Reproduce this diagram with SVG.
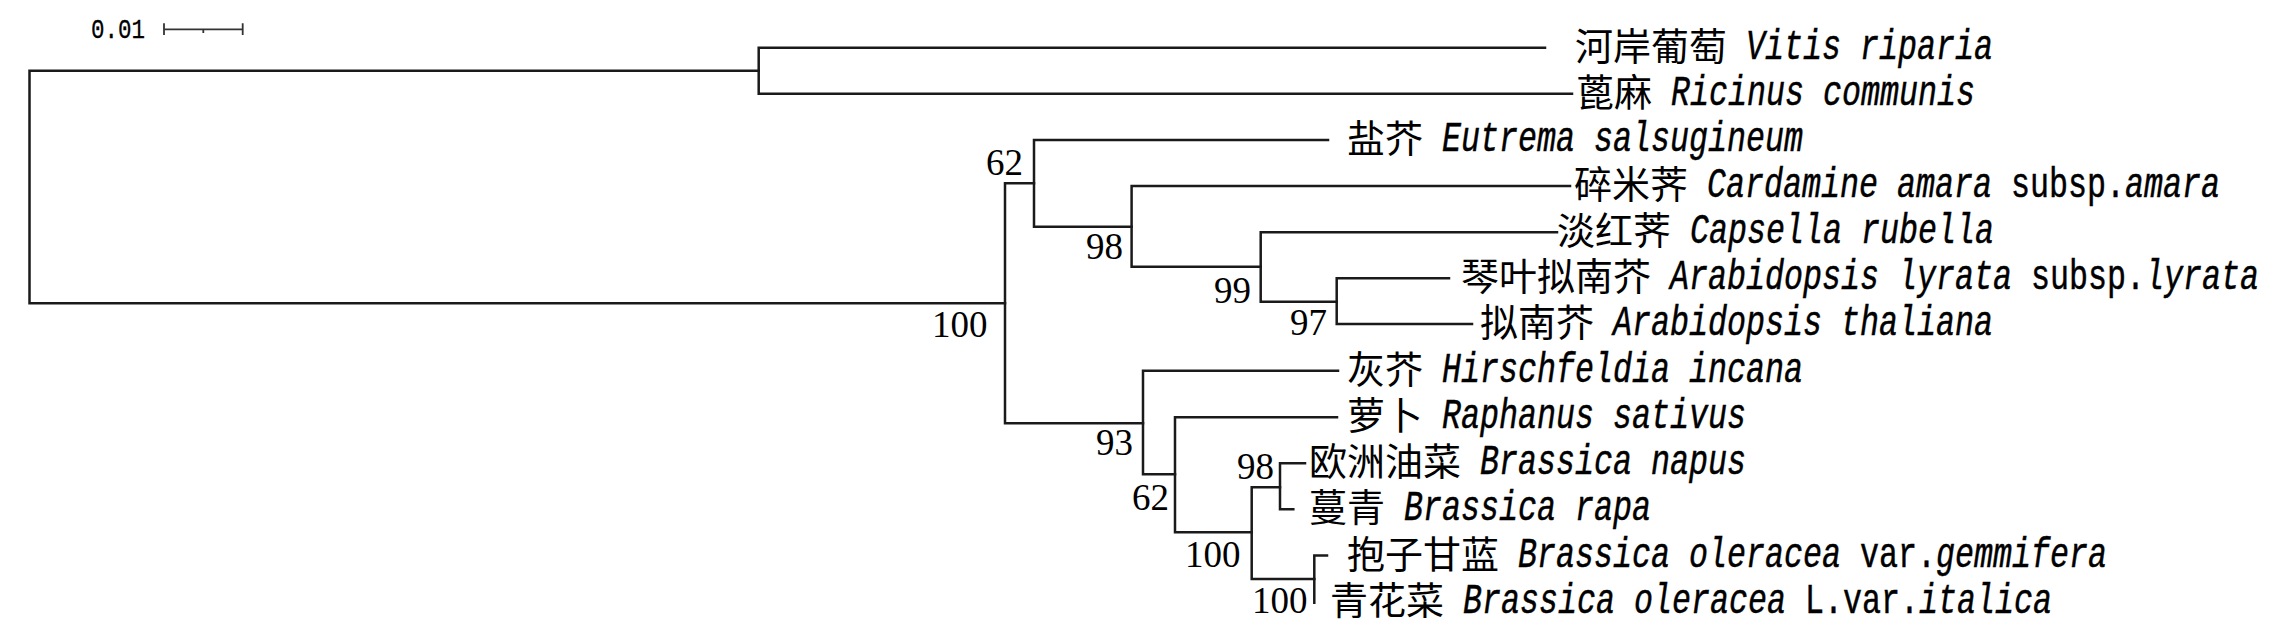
<svg xmlns="http://www.w3.org/2000/svg" width="2293" height="641" viewBox="0 0 2293 641">
<style>
.br{fill:none;stroke:#1a1a1a;stroke-width:2.5;stroke-linecap:square;stroke-linejoin:miter}
.sb{fill:none;stroke:#333;stroke-width:1.8}
.zh{font-family:"Noto Sans CJK SC","Noto Sans CJK JP",sans-serif;font-size:38px;fill:#000}
.la{font-family:"Liberation Mono",monospace;font-size:43px;fill:#000;stroke:#000;stroke-width:0.5}
.it{font-style:italic}
.bs{font-family:"Liberation Serif",serif;font-size:38px;fill:#000}
</style>
<rect width="2293" height="641" fill="#fff"/>
<g id="scale-bar">
<text class="la" x="91" y="37.5" style="font-size:28px;stroke-width:0.3" textLength="54" lengthAdjust="spacingAndGlyphs">0.01</text>
<path class="sb" d="M164 29.3H242.7M164 23.3V35M242.7 23.3V35M203.3 29.3V33"/>
</g>
<g id="connectors">
<path class="br" d="M758.7 70.7H29.5V303.3H1005"/>
<path class="br" d="M1545 47.7H758.7V93.7H1572"/>
<path class="br" d="M1034 183.3H1005V423.3H1143"/>
<path class="br" d="M1328 140H1034V226.7H1131.6"/>
<path class="br" d="M1570 186H1131.6V266.7H1260.7"/>
<path class="br" d="M1557 232.3H1260.7V301.7H1336.7"/>
<path class="br" d="M1449 278.3H1336.7V324H1472"/>
<path class="br" d="M1338 370.7H1143V474.3H1175"/>
<path class="br" d="M1337 417.3H1175V532.3H1251.7"/>
<path class="br" d="M1280 487.3H1251.7V579H1314.3"/>
<path class="br" d="M1305 463.3H1280V509.3H1293.3"/>
<path class="br" d="M1327 555.5H1314.3V602.7"/>
</g>
<g id="bootstrap">
<text class="bs" x="932" y="337" textLength="55.5" lengthAdjust="spacingAndGlyphs">100</text>
<text class="bs" x="986" y="175" textLength="37" lengthAdjust="spacingAndGlyphs">62</text>
<text class="bs" x="1086" y="259" textLength="37" lengthAdjust="spacingAndGlyphs">98</text>
<text class="bs" x="1214" y="303" textLength="37" lengthAdjust="spacingAndGlyphs">99</text>
<text class="bs" x="1290" y="335" textLength="37" lengthAdjust="spacingAndGlyphs">97</text>
<text class="bs" x="1096" y="455" textLength="37" lengthAdjust="spacingAndGlyphs">93</text>
<text class="bs" x="1132" y="510" textLength="37" lengthAdjust="spacingAndGlyphs">62</text>
<text class="bs" x="1185" y="567" textLength="55.5" lengthAdjust="spacingAndGlyphs">100</text>
<text class="bs" x="1237" y="479" textLength="37" lengthAdjust="spacingAndGlyphs">98</text>
<text class="bs" x="1252" y="613" textLength="55.5" lengthAdjust="spacingAndGlyphs">100</text>
</g>
<g id="vitis-riparia">
<text class="zh" x="1575" y="60">河岸葡萄</text>
<text class="la it" x="1746" y="59" textLength="247" lengthAdjust="spacingAndGlyphs">Vitis riparia</text>
</g>
<g id="ricinus-communis">
<text class="zh" x="1576" y="106">蓖麻</text>
<text class="la it" x="1671" y="105" textLength="304" lengthAdjust="spacingAndGlyphs">Ricinus communis</text>
</g>
<g id="eutrema-salsugineum">
<text class="zh" x="1347" y="152">盐芥</text>
<text class="la it" x="1442" y="151" textLength="361" lengthAdjust="spacingAndGlyphs">Eutrema salsugineum</text>
</g>
<g id="cardamine-amara">
<text class="zh" x="1574" y="198">碎米荠</text>
<text class="la it" x="1707" y="197" textLength="285" lengthAdjust="spacingAndGlyphs">Cardamine amara</text>
<text class="la" x="2011" y="197" textLength="114" lengthAdjust="spacingAndGlyphs">subsp.</text>
<text class="la it" x="2125" y="197" textLength="95" lengthAdjust="spacingAndGlyphs">amara</text>
</g>
<g id="capsella-rubella">
<text class="zh" x="1557" y="244">淡红荠</text>
<text class="la it" x="1690" y="243" textLength="304" lengthAdjust="spacingAndGlyphs">Capsella rubella</text>
</g>
<g id="arabidopsis-lyrata">
<text class="zh" x="1461" y="290">琴叶拟南芥</text>
<text class="la it" x="1670" y="289" textLength="342" lengthAdjust="spacingAndGlyphs">Arabidopsis lyrata</text>
<text class="la" x="2031" y="289" textLength="114" lengthAdjust="spacingAndGlyphs">subsp.</text>
<text class="la it" x="2145" y="289" textLength="114" lengthAdjust="spacingAndGlyphs">lyrata</text>
</g>
<g id="arabidopsis-thaliana">
<text class="zh" x="1480" y="336">拟南芥</text>
<text class="la it" x="1613" y="335" textLength="380" lengthAdjust="spacingAndGlyphs">Arabidopsis thaliana</text>
</g>
<g id="hirschfeldia-incana">
<text class="zh" x="1347" y="383">灰芥</text>
<text class="la it" x="1442" y="382" textLength="361" lengthAdjust="spacingAndGlyphs">Hirschfeldia incana</text>
</g>
<g id="raphanus-sativus">
<text class="zh" x="1347" y="429">萝卜</text>
<text class="la it" x="1442" y="428" textLength="304" lengthAdjust="spacingAndGlyphs">Raphanus sativus</text>
</g>
<g id="brassica-napus">
<text class="zh" x="1309" y="475">欧洲油菜</text>
<text class="la it" x="1480" y="474" textLength="266" lengthAdjust="spacingAndGlyphs">Brassica napus</text>
</g>
<g id="brassica-rapa">
<text class="zh" x="1309" y="521">蔓青</text>
<text class="la it" x="1404" y="520" textLength="247" lengthAdjust="spacingAndGlyphs">Brassica rapa</text>
</g>
<g id="brassica-oleracea-gemmifera">
<text class="zh" x="1347" y="568">抱子甘蓝</text>
<text class="la it" x="1518" y="567" textLength="323" lengthAdjust="spacingAndGlyphs">Brassica oleracea</text>
<text class="la" x="1860" y="567" textLength="76" lengthAdjust="spacingAndGlyphs">var.</text>
<text class="la it" x="1936" y="567" textLength="171" lengthAdjust="spacingAndGlyphs">gemmifera</text>
</g>
<g id="brassica-oleracea-italica">
<text class="zh" x="1330" y="614">青花菜</text>
<text class="la it" x="1463" y="613" textLength="323" lengthAdjust="spacingAndGlyphs">Brassica oleracea</text>
<text class="la" x="1805" y="613" textLength="114" lengthAdjust="spacingAndGlyphs">L.var.</text>
<text class="la it" x="1919" y="613" textLength="133" lengthAdjust="spacingAndGlyphs">italica</text>
</g>
</svg>
